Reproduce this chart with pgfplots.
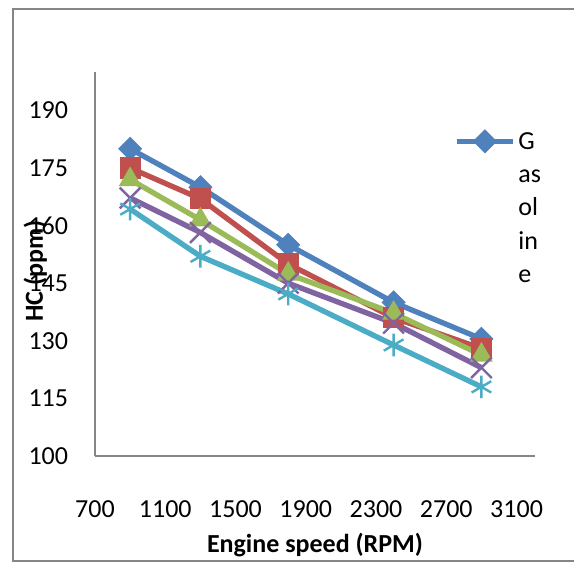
\documentclass[border=0pt]{standalone}
\usepackage{fontspec}
\setmainfont{Carlito}
\usepackage{pgfplots}
\pgfplotsset{compat=1.18}
\definecolor{s1}{HTML}{4F81BD}
\definecolor{s2}{HTML}{C0504D}
\definecolor{s3}{HTML}{9BBB59}
\definecolor{s4}{HTML}{8064A2}
\definecolor{s5}{HTML}{4BACC6}
\definecolor{axgray}{HTML}{868686}
\begin{document}
\begin{tikzpicture}[x=1pt,y=1pt]
\useasboundingbox (-71.25,-80.25) rectangle (359.25,342);
\draw[axgray, line width=1.6pt] (-61.5,-78.75) rectangle (366,335.25);
\begin{axis}[
  at={(0,0)}, anchor=south west,
  scale only axis, width=330pt, height=288pt,
  xmin=700, xmax=3205, ymin=100, ymax=200,
  axis x line*=bottom, axis y line*=left,
  axis line style={axgray, line width=1.2pt},
  xtick={700,1100,1500,1900,2300,2700,3100},
  ytick={100,115,130,145,160,175,190},
  tick style={draw=none},
  scaled x ticks=false,
  /pgf/number format/set thousands separator={},
  /pgf/number format/assume math mode=true,
  xticklabel style={font=\fontsize{19.5}{22}\selectfont, anchor=base, yshift=-45.75pt},
  yticklabel style={font=\fontsize{19.5}{22}\selectfont, anchor=east, inner sep=0pt, xshift=-20pt},
  xlabel={Engine speed (RPM)},
  ylabel={HC (ppm)},
  xlabel style={font=\bfseries\fontsize{19.5}{22}\selectfont, at={(axis description cs:0.5,-0.232)}, anchor=center},
  ylabel style={font=\bfseries\fontsize{19.5}{22}\selectfont, at={(axis description cs:-0.136,0.482)}, anchor=center},
  legend style={at={(rel axis cs:0.816,0.867)}, anchor=north west, draw=none, fill=none, inner sep=0pt,
    font=\fontsize{19.5}{25}\selectfont, cells={anchor=base west}},
  legend image code/.code={\draw[mark repeat=2,mark phase=2,#1] plot coordinates {(0pt,6pt)(21pt,6pt)(42pt,6pt)};},
]
\addplot[color=s1, line width=4pt, mark=square*, mark size=6pt, mark options={rotate=45, solid, line width=0.8pt, fill=s1}]
  coordinates {(900,180) (1300,170) (1800,155) (2400,140) (2900,130.5)};
\addlegendentry{\begin{tabular}[t]{@{}l@{}}G\\as\\ol\\in\\e\end{tabular}}
\addplot[color=s2, line width=4pt, mark=square*, mark size=7.5pt, mark options={solid, line width=0.8pt, fill=s2}]
  coordinates {(900,175) (1300,167) (1800,150) (2400,136) (2900,128)};
\addplot[color=s3, line width=4pt, mark=triangle*, mark size=9pt, mark options={solid, line width=0.8pt, fill=s3}]
  coordinates {(900,172) (1300,161.5) (1800,147.4) (2400,137.2) (2900,126.3)};
\addplot[color=s4, line width=4pt, mark=x, mark size=11pt, mark options={solid, line width=1.8pt}]
  coordinates {(900,167.2) (1300,158.2) (1800,145) (2400,134.6) (2900,123)};
\addplot[color=s5, line width=4pt, mark=asterisk, mark size=8.5pt, mark options={solid, line width=1.8pt}]
  coordinates {(900,164.3) (1300,152) (1800,142.2) (2400,128.9) (2900,118)};
\end{axis}
\end{tikzpicture}
\end{document}
